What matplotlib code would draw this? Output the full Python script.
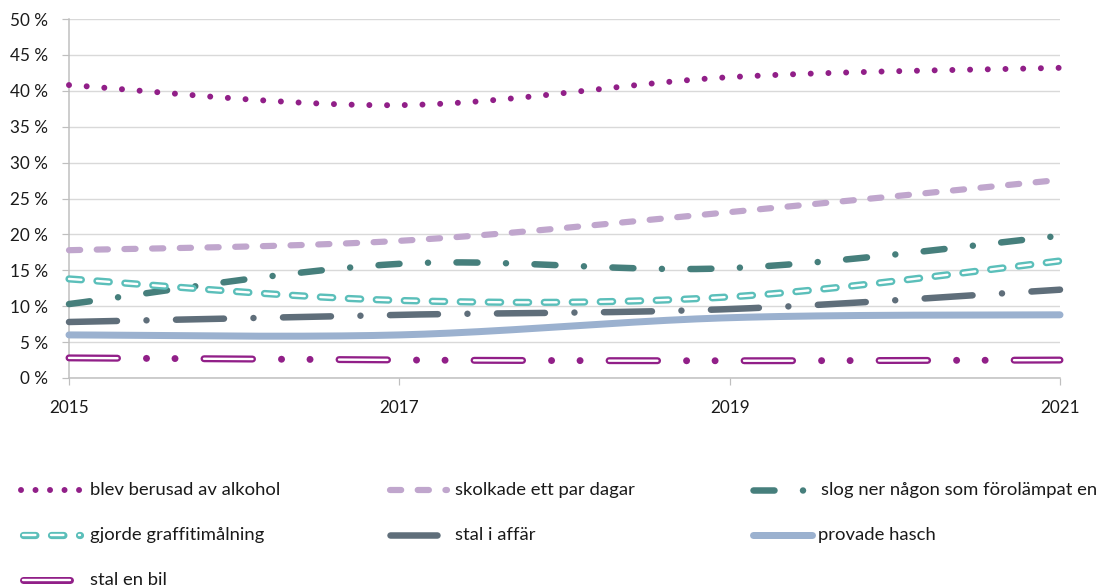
import numpy as np
import matplotlib
matplotlib.use("Agg")
import matplotlib.pyplot as plt
from matplotlib.ticker import FuncFormatter

plt.rcParams.update({"font.family": ["Lato", "DejaVu Sans"], "lines.scale_dashes": False})

years = [2015, 2017, 2019, 2021]
alkohol = [40.8, 38.0, 41.9, 43.2]
skolkade = [17.8, 19.1, 23.1, 27.6]
slog_ner = [10.3, 15.9, 15.3, 19.8]
graffiti = [13.8, 10.8, 11.3, 16.3]
stal_affar = [7.8, 8.8, 9.6, 12.3]
hasch = [6.0, 6.0, 8.4, 8.8]
stal_bil = [2.8, 2.5, 2.4, 2.5]

labels = ["blev berusad av alkohol", "skolkade ett par dagar", "slog ner någon som förolämpat en",
          "gjorde graffitimålning", "stal i affär", "provade hasch", "stal en bil"]

PURPLE, LAVENDER, TEAL_D, TEAL_L, SLATE, BLUEGRAY = "#911f88", "#c0a6cd", "#467f7c", "#5bbfba", "#5f6e7a", "#9bb1cf"
INK, AXC, GRID = "#1a1a1a", "#bfbfbf", "#d9d9d9"
PX = 0.72  # points per pixel at dpi 100


def px(seq):
    return tuple(v * PX for v in seq)


def smooth(x, y, n=80):
    # Excel-like smoothed line: cubic Bezier with neighbour-based tangents
    P = np.column_stack([x, y]).astype(float)
    out = [P[:1]]
    for i in range(len(P) - 1):
        a = P[i - 1] if i > 0 else P[i]
        d = P[i + 2] if i + 2 < len(P) else P[i + 1]
        c1 = P[i] + (P[i + 1] - a) / 6
        c2 = P[i + 1] - (d - P[i]) / 6
        t = np.linspace(0, 1, n)[1:, None]
        seg = ((1 - t) ** 3) * P[i] + 3 * ((1 - t) ** 2) * t * c1 + 3 * (1 - t) * t ** 2 * c2 + t ** 3 * P[i + 1]
        out.append(seg)
    c = np.vstack(out)
    return c[:, 0], c[:, 1]


# line styles: (color, width px, dashes px or None, inner white (width px, dashes px) or None)
styles = [
    (PURPLE, 6.0, [0.01, 17.7], None),
    (LAVENDER, 6.2, [11.2, 16.5], None),
    (TEAL_D, 6.5, [21, 28.5, 0.01, 28.5], None),
    (TEAL_L, 7.2, [12.4, 15.6], (2.4, [12.4, 15.6])),
    (SLATE, 6.5, [48, 29.5, 0.01, 29.5], None),
    (BLUEGRAY, 7.0, None, None),
    (PURPLE, 7.0, [48.5, 29, 0.01, 28.5, 0.01, 29], (2.4, [48.5, 86.5])),
]
series = [alkohol, skolkade, slog_ner, graffiti, stal_affar, hasch, stal_bil]


def draw(axis, xs, ys, st, **kw):
    col, w, dash, inner = st
    l, = axis.plot(xs, ys, color=col, lw=w * PX, solid_capstyle="round", dash_capstyle="round", **kw)
    if dash:
        l.set_dashes(px(dash))
    if inner:
        iw, idash = inner
        l2, = axis.plot(xs, ys, color="white", lw=iw * PX, dash_capstyle="round", **kw)
        l2.set_dashes(px(idash))


fig = plt.figure(figsize=(11.03, 5.86), dpi=100)
ax = fig.add_axes([69 / 1103, 1 - 378 / 586, (1060 - 69) / 1103, (378 - 19) / 586])

for vals, st in zip(series, styles):
    xs, ys = smooth(years, vals)
    draw(ax, xs, ys, st, clip_on=False, zorder=3)

ax.set_xlim(2015, 2021)
ax.set_ylim(0, 50)
ax.set_xticks(years)
ax.set_yticks(np.arange(0, 51, 5))
ax.yaxis.set_major_formatter(FuncFormatter(lambda v, _: f"{int(v)} %"))
ax.grid(axis="y", color=GRID, lw=1.4 * PX, zorder=0)
ax.set_axisbelow(True)
for s in ["top", "right"]:
    ax.spines[s].set_visible(False)
for s in ["left", "bottom"]:
    ax.spines[s].set_color(AXC)
    ax.spines[s].set_linewidth(1.5 * PX)
ax.tick_params(axis="both", direction="out", length=5, width=1.2 * PX, color=AXC, labelsize=12.3, labelcolor=INK)
ax.tick_params(axis="y", pad=10)
ax.tick_params(axis="x", pad=11)

# legend, laid out in pixel coordinates of the figure
lax = fig.add_axes([0, 0, 1, 1])
lax.set_xlim(0, 1103)
lax.set_ylim(586, 0)
lax.axis("off")
slots = [(21, 79.5, 90, 490), (390, 447, 455, 490), (753, 807, 821, 490),
         (23, 80, 90, 535), (390, 437, 455, 535), (753, 812, 818, 535),
         (23, 70, 90, 580)]
leg_styles = list(styles)
leg_styles[0] = (PURPLE, 6.0, [0.01, 14.5], None)
for (x0, x1, tx, y), st, lab in zip(slots, leg_styles, labels):
    draw(lax, [x0, x1], [y, y], st)
    lax.text(tx, y, lab, fontsize=13.3, color=INK, va="center", ha="left")

fig.savefig("out.png", dpi=100, facecolor="white")
